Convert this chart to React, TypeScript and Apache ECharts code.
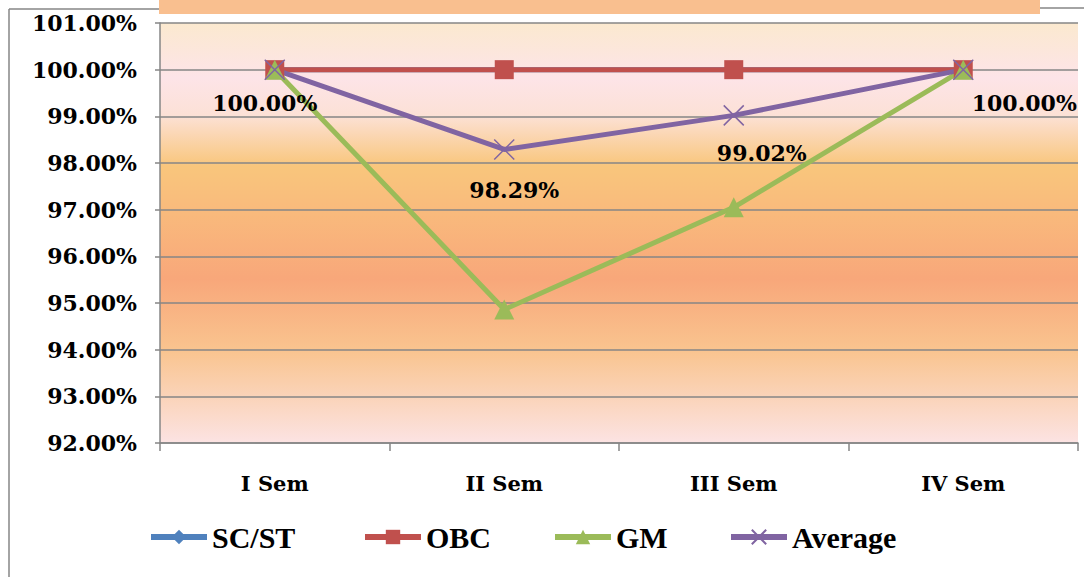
import React, { useEffect, useRef } from "react";
import * as echarts from "echarts";

const categories = ["I Sem", "II Sem", "III Sem", "IV Sem"];
const scst = [100, 100, 100, 100];
const obc = [100, 100, 100, 100];
const gm = [100, 94.86, 97.05, 100];
const average = [100, 98.29, 99.02, 100];
const labelOffsets: [number, number][] = [[-10, 33], [10, 41], [28, 38], [61, 33]];

const FONT = "DejaVu Serif";
const LEGEND_FONT = "Liberation Serif";
const GRID = "#868686";

export default function App() {
  const ref = useRef<HTMLDivElement>(null);
  useEffect(() => {
    if (!ref.current) return;
    const chart = echarts.init(ref.current, null, { renderer: "svg" });
    const crossPath = "path://M0,0L10,10M10,0L0,10";
    const legendCommon = {
      top: 522,
      padding: 0,
      itemWidth: 56,
      itemHeight: 18,
      itemGap: 0,
      lineStyle: { width: 6 },
      textStyle: { fontFamily: LEGEND_FONT, fontWeight: "bold", fontSize: 30, color: "#000" },
    };
    chart.setOption({
      animation: false,
      backgroundColor: "#fff",
      grid: { left: 160, top: 23, right: 6, bottom: 134, containLabel: false },
      graphic: [
        { type: "line", shape: { x1: 9, y1: 9, x2: 9, y2: 577 }, style: { stroke: GRID, lineWidth: 1.5 } },
        { type: "line", shape: { x1: 9, y1: 9, x2: 159, y2: 9 }, style: { stroke: GRID, lineWidth: 1.5 } },
        { type: "line", shape: { x1: 1040, y1: 8, x2: 1084, y2: 8 }, style: { stroke: GRID, lineWidth: 1.5 } },
        { type: "rect", shape: { x: 159, y: 0, width: 881, height: 14 }, style: { fill: "#F9BF8F" } },
        {
          type: "rect",
          z: -10,
          shape: { x: 160, y: 23, width: 918, height: 420 },
          style: {
            fill: new echarts.graphic.LinearGradient(0, 0, 0, 1, [
              { offset: 0, color: "#FBE9CF" },
              { offset: 0.13, color: "#FDE4E8" },
              { offset: 0.22, color: "#FCE1D6" },
              { offset: 0.34, color: "#F9C67C" },
              { offset: 0.45, color: "#F9BA7C" },
              { offset: 0.61, color: "#F8A77A" },
              { offset: 0.78, color: "#F9C48F" },
              { offset: 1, color: "#FCE3E3" },
            ]),
          },
        },
      ],
      legend: [
        { ...legendCommon, left: 148, data: ["SC/ST"] },
        { ...legendCommon, left: 362, data: ["OBC"] },
        { ...legendCommon, left: 552, data: ["GM"] },
        { ...legendCommon, left: 728, data: ["Average"] },
      ],
      xAxis: {
        type: "category",
        data: categories,
        boundaryGap: true,
        axisLine: { show: true, lineStyle: { color: GRID, width: 1.5 } },
        axisTick: { show: true, length: 8, lineStyle: { color: GRID, width: 1.5 } },
        axisLabel: { margin: 30, fontFamily: FONT, fontWeight: "bold", fontSize: 21, color: "#000" },
        splitLine: { show: false },
      },
      yAxis: {
        type: "value",
        min: 92,
        max: 101,
        interval: 1,
        axisLine: { show: true, lineStyle: { color: GRID, width: 1.5 } },
        axisTick: { show: true, length: 5, lineStyle: { color: GRID, width: 1.5 } },
        axisLabel: {
          margin: 23,
          fontFamily: FONT,
          fontWeight: "bold",
          fontSize: 22,
          color: "#000",
          formatter: (v: number) => v.toFixed(2) + "%",
        },
        splitLine: { show: true, lineStyle: { color: GRID, width: 1.5 } },
      },
      series: [
        {
          name: "SC/ST",
          type: "line",
          data: scst,
          symbol: "diamond",
          symbolSize: 18,
          lineStyle: { color: "#4F81BD", width: 5 },
          itemStyle: { color: "#4F81BD" },
        },
        {
          name: "OBC",
          type: "line",
          data: obc,
          symbol: "rect",
          symbolSize: 19,
          lineStyle: { color: "#C0504D", width: 5 },
          itemStyle: { color: "#C0504D" },
        },
        {
          name: "GM",
          type: "line",
          data: gm,
          symbol: "triangle",
          symbolSize: 20,
          lineStyle: { color: "#9BBB59", width: 5 },
          itemStyle: { color: "#9BBB59" },
        },
        {
          name: "Average",
          type: "line",
          data: average.map((v, i) => ({
            value: v,
            label: {
              show: true,
              position: "inside",
              offset: labelOffsets[i],
              formatter: (p: any) => Number(p.value).toFixed(2) + "%",
              fontFamily: FONT,
              fontWeight: "bold",
              fontSize: 22,
              color: "#000",
            },
          })),
          symbol: crossPath,
          symbolSize: 20,
          lineStyle: { color: "#8064A2", width: 5 },
          itemStyle: { color: "#8064A2", borderColor: "#8064A2", borderWidth: 1.5 },
        },
      ],
    });
    return () => chart.dispose();
  }, []);
  return (
    <div
      ref={ref}
      style={{ position: "fixed", left: 0, top: 0, width: 1084, height: 577 }}
    />
  );
}
